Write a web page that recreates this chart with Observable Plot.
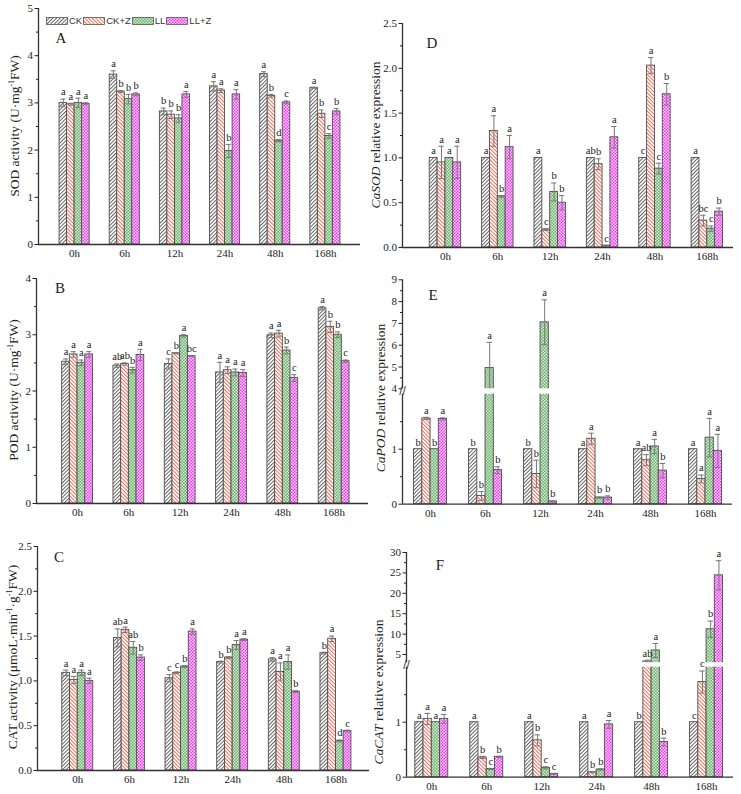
<!DOCTYPE html>
<html><head><meta charset="utf-8">
<script src="https://cdn.jsdelivr.net/npm/d3@7"></script>
<script src="https://cdn.jsdelivr.net/npm/@observablehq/plot@0.6"></script>
<style>
body{margin:0;background:#fff;}
#wrap{position:relative;width:741px;height:794px;overflow:hidden;font-family:"Liberation Serif",serif;background:#fff;}
.panel{position:absolute;}
.ylab{position:absolute;white-space:nowrap;font-family:"Liberation Serif",serif;font-size:13.5px;color:#222;transform:translate(-50%,-50%) rotate(-90deg);}
.ylab sup{font-size:8px;line-height:0;}
.plet{position:absolute;font-family:"Liberation Serif",serif;font-size:15px;color:#222;transform:translate(-50%,-50%);}
.leg{position:absolute;left:46px;top:16px;display:flex;align-items:center;font-family:"Liberation Sans",Arial,sans-serif;font-size:9.5px;color:#333;line-height:10px;white-space:nowrap;}
.leg span{margin:0 1px 0 1px;}
</style></head><body>
<svg width="0" height="0" style="position:absolute">
<defs>
<pattern id="pCK" patternUnits="userSpaceOnUse" width="2.6" height="2.6" patternTransform="rotate(45)">
<rect width="2.6" height="2.6" fill="#fff"/><line x1="0.5" y1="0" x2="0.5" y2="2.6" stroke="#555" stroke-width="0.9"/>
</pattern>
<pattern id="pCKZ" patternUnits="userSpaceOnUse" width="2.6" height="2.6" patternTransform="rotate(-45)">
<rect width="2.6" height="2.6" fill="#fff"/><line x1="0.5" y1="0" x2="0.5" y2="2.6" stroke="#f0604a" stroke-width="0.9"/>
</pattern>
<pattern id="pLL" patternUnits="userSpaceOnUse" width="3" height="3">
<rect width="3" height="3" fill="#6aae6a"/><rect width="1.5" height="1.5" fill="#d6eed6"/><rect x="1.5" y="1.5" width="1.5" height="1.5" fill="#d6eed6"/>
</pattern>
<pattern id="pLLZ" patternUnits="userSpaceOnUse" width="3" height="3">
<rect width="3" height="3" fill="#f03cf0"/><rect width="1.5" height="1.5" fill="#ffd6ff"/><rect x="1.5" y="1.5" width="1.5" height="1.5" fill="#ffd6ff"/>
</pattern>
</defs></svg>
<div id="wrap"></div>
<script>
// ---------- data ----------
const times = ["0h","6h","12h","24h","48h","168h"];
const treatments = ["CK","CK+Z","LL","LL+Z"];

// rows: CK, CK+Z, LL, LL+Z ; columns: times
const sodMean = [[3.00,3.60,2.82,3.35,3.61,3.32],[2.97,3.24,2.75,3.26,3.15,2.77],[3.00,3.08,2.67,1.98,2.20,2.30],[2.98,3.18,3.18,3.18,3.01,2.82]];
const sodErr  = [[0.08,0.08,0.07,0.10,0.05,0.01],[0.02,0.02,0.08,0.04,0.03,0.08],[0.10,0.10,0.08,0.14,0.02,0.05],[0.02,0.03,0.06,0.10,0.03,0.06]];
const sodSig  = [["a","a","b","a","a","a"],["a","b","b","a","b","b"],["a","b","b","b","d","c"],["a","b","a","a","c","b"]];

const podMean = [[2.52,2.45,2.48,2.33,2.99,3.47],[2.65,2.48,2.67,2.37,3.02,3.14],[2.50,2.37,2.98,2.33,2.72,3.00],[2.65,2.64,2.62,2.32,2.23,2.53]];
const podErr  = [[0.05,0.03,0.09,0.18,0.04,0.03],[0.05,0.02,0.01,0.06,0.06,0.10],[0.05,0.05,0.02,0.06,0.06,0.05],[0.05,0.10,0.01,0.06,0.06,0.02]];
const podSig  = [["a","ab","c","a","a","a"],["a","ab","b","a","a","b"],["a","b","a","a","b","b"],["a","a","bc","a","c","c"]];

const catMean = [[1.09,1.48,1.03,1.21,1.24,1.31],[1.01,1.57,1.09,1.26,1.10,1.47],[1.09,1.37,1.16,1.40,1.21,0.33],[1.00,1.26,1.55,1.46,0.88,0.44]];
const catErr  = [[0.03,0.10,0.04,0.01,0.02,0.01],[0.04,0.03,0.01,0.01,0.10,0.03],[0.03,0.07,0.01,0.05,0.08,0.01],[0.03,0.03,0.03,0.01,0.01,0.01]];
const catSig  = [["a","ab","c","b","a","b"],["a","a","c","b","a","a"],["a","ab","b","a","a","d"],["a","b","a","a","b","c"]];

const casodMean = [[1,1,1,1,1,1],[0.95,1.30,0.20,0.93,2.03,0.30],[1.00,0.57,0.62,0.02,0.88,0.21],[0.95,1.12,0.50,1.23,1.71,0.40]];
const casodErr  = [[0,0,0,0,0,0],[0.18,0.17,0.01,0.06,0.09,0.06],[0,0.01,0.10,0.005,0.06,0.03],[0.18,0.13,0.08,0.12,0.12,0.04]];
const casodSig  = [["a","a","a","ab","c","a"],["a","a","c","b","a","bc"],["a","b","b","c","c","c"],["a","a","b","a","b","b"]];

const capodMean = [[1,1,1,1,1,1],[1.56,0.15,0.55,1.19,0.80,0.46],[1.00,4.95,7.05,0.12,1.05,1.21],[1.55,0.62,0.05,0.12,0.61,0.97]];
const capodErr  = [[0,0,0,0,0,0],[0.02,0.08,0.25,0.10,0.10,0.07],[0,1.18,1.03,0.01,0.13,0.35],[0.02,0.06,0.01,0.03,0.13,0.30]];
const capodSig  = [["b","b","b","a","a","a"],["a","b","b","a","ab","a"],["b","a","a","b","a","a"],["a","b","b","b","b","a"]];

const cacatMean = [[1,1,1,1,1,1],[1.06,0.36,0.67,0.09,3.3,1.73],[1.00,0.15,0.17,0.14,6.0,11.2],[1.06,0.37,0.06,0.96,0.64,24.4]];
const cacatErr  = [[0,0,0,0,0,0],[0.10,0.02,0.10,0.01,0.3,0.20],[0,0.01,0.02,0.01,1.7,2.0],[0.08,0.01,0.01,0.07,0.07,3.6]];
const cacatSig  = [["a","a","a","a","b","c"],["a","b","b","b","ab","c"],["a","c","c","b","a","b"],["a","b","c","a","b","a"]];

// tick values
const ticksSOD = [0,1,2,3,4,5], minorSOD = [0.5,1.5,2.5,3.5,4.5];
const ticksPOD = [0,1,2,3,4], minorPOD = [0.5,1.5,2.5,3.5];
const ticksRel25 = [0,0.5,1,1.5,2,2.5], minorRel25 = [0.25,0.75,1.25,1.75,2.25];
const ticksCaPOD = [0,1,4,5,6,7,8,9], minorCaPOD = [0.5,1.5,4.5,5.5,6.5,7.5,8.5];
const ticksCaCAT = [0,1,5,10,15,20,25,30], minorCaCAT = [0.5,1.5,7.5,12.5,17.5,22.5,27.5];

// ---------- styling ----------
const patternOf = {"CK":"url(#pCK)","CK+Z":"url(#pCKZ)","LL":"url(#pLL)","LL+Z":"url(#pLLZ)"};
const bw = 0.15, cap = 0.05;
const wrap = document.getElementById("wrap");

function build(cfg) {
  const rows = [];
  treatments.forEach((t,k) => times.forEach((h,i) => rows.push({t,k,h,i,v:cfg.mean[k][i],e:cfg.err[k][i],s:cfg.sig[k][i]})));
  const c = d => d.i + (d.k - 1.5) * bw;
  const errRows = rows.filter(d => d.e > 0);
  const x0 = cfg.xDomain[0];
  const marks = [
    Plot.rect(rows, {x1: d => c(d) - bw/2, x2: d => c(d) + bw/2, y1: d => 0, y2: "v", fill: d => patternOf[d.t], stroke: "#4d4d4d", strokeWidth: 0.9}),
    Plot.ruleX(errRows, {x: c, y1: d => d.v - d.e, y2: d => d.v + d.e, stroke: "#777", strokeWidth: 1}),
    Plot.ruleY(errRows, {y: d => d.v + d.e, x1: d => c(d) - cap, x2: d => c(d) + cap, stroke: "#777", strokeWidth: 1}),
    Plot.ruleY(errRows, {y: d => d.v - d.e, x1: d => c(d) - cap, x2: d => c(d) + cap, stroke: "#777", strokeWidth: 1})
  ];
  if (cfg.gap) marks.push(Plot.rect([cfg.gap], {x1: () => cfg.xDomain[0], x2: () => cfg.xDomain[1], y1: g => g[0], y2: g => g[1], fill: "white"}));
  marks.push(Plot.text(rows, {x: c, y: d => d.v + d.e, text: "s", dy: -7, fill: "#222", fontSize: 10.5}));
  marks.push(Plot.ruleY([0], {stroke: "#333", strokeWidth: 1.3}));
  marks.push(Plot.ruleX(cfg.segments, {x: () => x0, y1: s => s[0], y2: s => s[1], stroke: "#333", strokeWidth: 1.3}));
  marks.push(Plot.axisY({ticks: cfg.ticks, tickFormat: cfg.fmt, tickSize: 3.5, tickPadding: 2, label: null, fontSize: 11}));
  marks.push(Plot.axisY({ticks: cfg.minor, tickFormat: () => "", tickSize: 2, label: null}));
  marks.push(Plot.axisX({ticks: d3.range(times.length), tickFormat: i => times[i], tickSize: 0, tickPadding: 5, label: null, fontSize: 11}));
  if (cfg.gap) marks.push(Plot.text([cfg.gap], {x: () => x0, y: g => (g[0] + g[1]) / 2, text: () => "//", fontSize: 12, fill: "#333", fontFamily: "Liberation Sans"}));

  const svg = Plot.plot({
    width: cfg.width, height: cfg.height,
    marginLeft: cfg.ml, marginRight: cfg.mr, marginTop: cfg.mt, marginBottom: cfg.mb,
    x: {type: "linear", domain: cfg.xDomain},
    y: cfg.y,
    color: {type: "identity"},
    style: {fontFamily: "Liberation Serif, serif", fontSize: "11px", color: "#222", background: "transparent"},
    marks
  });
  svg.classList.add("panel");
  svg.style.left = cfg.left + "px";
  svg.style.top = cfg.top + "px";
  wrap.appendChild(svg);
}

const f1 = d3.format(".1f"), fd = d3.format("d");

build({mean: sodMean, err: sodErr, sig: sodSig, left: 0, top: 0, width: 370, height: 265, ml: 38, mr: 10, mt: 8, mb: 21,
  xDomain: [-0.72, 5.7], y: {domain: [0, 5]}, ticks: ticksSOD, minor: minorSOD, fmt: fd, segments: [[0, 5]]});
build({mean: casodMean, err: casodErr, sig: casodSig, left: 370, top: 0, width: 371, height: 265, ml: 32, mr: 8, mt: 23, mb: 18,
  xDomain: [-0.82, 5.5], y: {domain: [0, 2.5]}, ticks: ticksRel25, minor: minorRel25, fmt: f1, segments: [[0, 2.5]]});
build({mean: podMean, err: podErr, sig: podSig, left: 0, top: 265, width: 370, height: 265, ml: 36, mr: 2, mt: 13, mb: 27,
  xDomain: [-0.8, 5.67], y: {domain: [0, 4]}, ticks: ticksPOD, minor: minorPOD, fmt: fd, segments: [[0, 4]]});
build({mean: capodMean, err: capodErr, sig: capodSig, left: 370, top: 265, width: 371, height: 265, ml: 32, mr: 9, mt: 14, mb: 26,
  xDomain: [-0.51, 5.49], y: {type: "linear", domain: [0, 2, 4, 9], range: [238.7, 128.7, 123.3, 14.3]},
  ticks: ticksCaPOD, minor: minorCaPOD, fmt: fd, segments: [[0, 2], [4, 9]], gap: [2, 4]});
build({mean: catMean, err: catErr, sig: catSig, left: 0, top: 530, width: 370, height: 264, ml: 37, mr: 1, mt: 16, mb: 24,
  xDomain: [-0.78, 5.65], y: {domain: [0, 2.5]}, ticks: ticksRel25, minor: minorRel25, fmt: f1, segments: [[0, 2.5]]});
build({mean: cacatMean, err: cacatErr, sig: cacatSig, left: 370, top: 530, width: 371, height: 264, ml: 36, mr: 8, mt: 22, mb: 17,
  xDomain: [-0.46, 5.49], y: {type: "linear", domain: [0, 2, 3, 30], range: [246.7, 136.7, 132.2, 22]},
  ticks: ticksCaCAT, minor: minorCaCAT, fmt: fd, segments: [[0, 2], [3, 30]], gap: [2, 3]});

// ---------- text overlays ----------
function addDiv(cls, html, x, y) {
  const d = document.createElement("div");
  d.className = cls; d.innerHTML = html;
  d.style.left = x + "px"; d.style.top = y + "px";
  wrap.appendChild(d);
}
addDiv("ylab", "SOD activity (U·mg<sup>-1</sup>FW)", 15, 126);
addDiv("ylab", "POD activity (U·mg<sup>-1</sup>FW)", 14, 390);
addDiv("ylab", "CAT activity (μmoL·min<sup>-1</sup>·g<sup>-1</sup>FW)", 13, 657);
addDiv("ylab", "<i>CaSOD</i> relative expression", 376, 135);
addDiv("ylab", "<i>CaPOD</i> relative expression", 381, 398);
addDiv("ylab", "<i>CaCAT</i> relative expression", 379, 692);
[["A",61,38],["D",432,43],["B",60,288],["E",433,295],["C",59,557],["F",440,565]].forEach(([t,x,y]) => addDiv("plet", t, x, y));

// legend
const leg = document.createElement("div");
leg.className = "leg";
leg.innerHTML = treatments.map(t =>
  `<svg width="22" height="8" style="display:block;flex:none"><rect x="0.5" y="0.5" width="21" height="7" fill="${patternOf[t]}" stroke="#555" stroke-width="0.8"/></svg><span>${t}</span>`
).join("");
wrap.appendChild(leg);
</script>
</body></html>
